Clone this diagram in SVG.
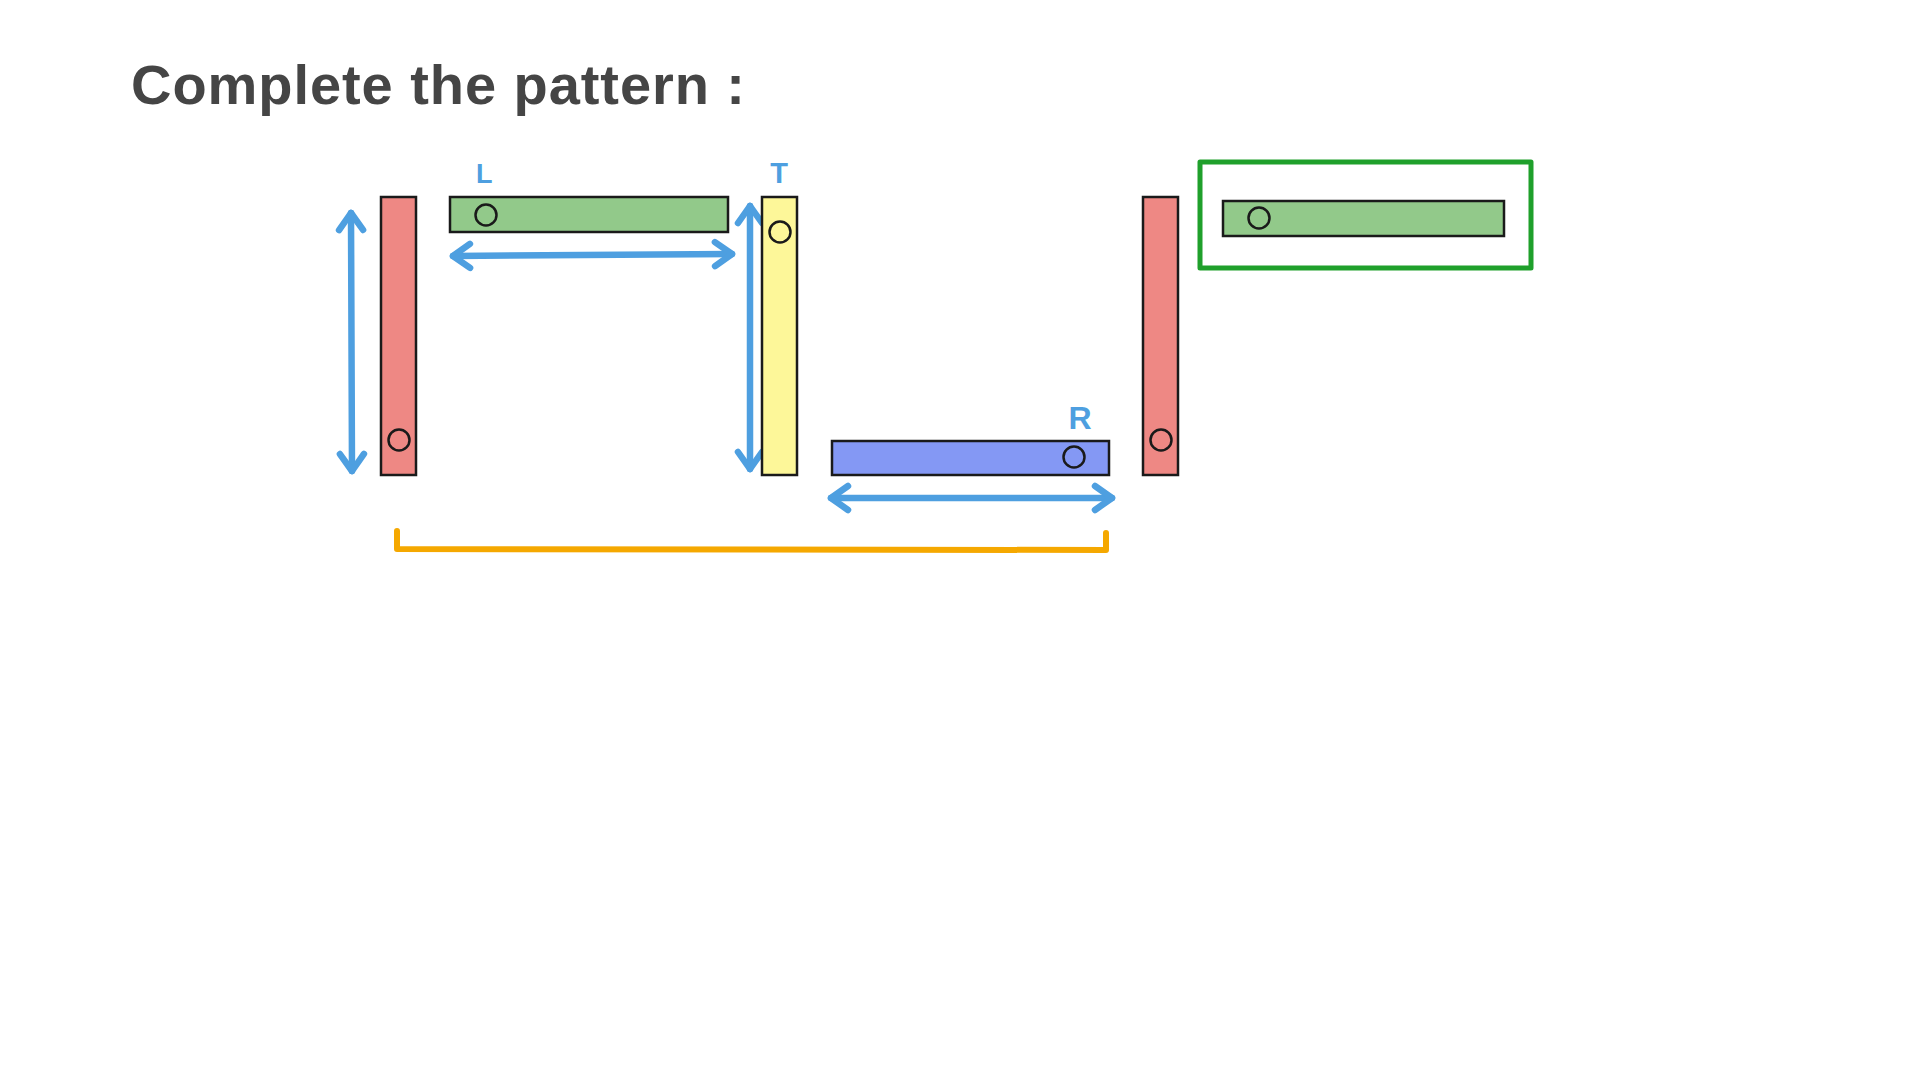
<svg xmlns="http://www.w3.org/2000/svg" width="1920" height="1080" viewBox="0 0 1920 1080">
  <style>
    .bar { stroke: #1a1a1a; stroke-width: 2.5; }
    .red { fill: #ee8884; }
    .green { fill: #92c98a; }
    .yellow { fill: #fdf799; }
    .blue { fill: #8498f4; }
    .hole { fill: none; stroke: #1a1a1a; stroke-width: 2.5; }
    .arrow { fill: none; stroke: #4e9fe0; stroke-width: 6.5; stroke-linecap: round; stroke-linejoin: round; }
    .lbl { font-family: "Liberation Sans", "Noto Sans", sans-serif; font-weight: bold; fill: #4e9fe0; }
    .title { font-family: "Liberation Sans", "Noto Sans", sans-serif; font-size: 56px; font-weight: bold; fill: #454545; }
  </style>
  <defs>
    <marker id="chev" markerUnits="userSpaceOnUse" markerWidth="40" markerHeight="40" refX="0" refY="0" viewBox="-30 -20 40 40" orient="auto-start-reverse" overflow="visible">
      <path d="M -17 -12 L 0 0 L -17 12" fill="none" stroke="#4e9fe0" stroke-width="6.5" stroke-linecap="round" stroke-linejoin="round"/>
    </marker>
  </defs>
  <rect width="1920" height="1080" fill="#ffffff"/>

  <text class="title" x="131" y="104" textLength="614" lengthAdjust="spacing">Complete the pattern :</text>

  <g id="connectors">
    <path class="arrow" d="M 351 213 L 352 471" marker-start="url(#chev)" marker-end="url(#chev)"/>
    <path class="arrow" d="M 453 256 L 732 254" marker-start="url(#chev)" marker-end="url(#chev)"/>
    <path class="arrow" d="M 750 206 L 750 469" marker-start="url(#chev)" marker-end="url(#chev)"/>
    <path class="arrow" d="M 831 498 L 1112 498" marker-start="url(#chev)" marker-end="url(#chev)"/>
    <path d="M 397 531 L 397 549 L 1106 550 L 1106 533" fill="none" stroke="#f5a800" stroke-width="6" stroke-linecap="round" stroke-linejoin="round"/>
  </g>

  <g id="bar-red-1">
    <rect class="bar red" x="381" y="197" width="35" height="278"/>
    <circle class="hole" cx="399" cy="440" r="10.5"/>
  </g>
  <g id="bar-green-1">
    <rect class="bar green" x="450" y="197" width="278" height="35"/>
    <circle class="hole" cx="486" cy="215" r="10.5"/>
    <text class="lbl" x="476" y="183" font-size="27">L</text>
  </g>
  <g id="bar-yellow">
    <rect class="bar yellow" x="762" y="197" width="35" height="278"/>
    <circle class="hole" cx="780" cy="232" r="10.5"/>
    <text class="lbl" x="779" y="183" font-size="29" text-anchor="middle">T</text>
  </g>
  <g id="bar-blue">
    <rect class="bar blue" x="832" y="441" width="277" height="34"/>
    <circle class="hole" cx="1074" cy="457" r="10.5"/>
    <text class="lbl" x="1080" y="429" font-size="32" text-anchor="middle">R</text>
  </g>
  <g id="bar-red-2">
    <rect class="bar red" x="1143" y="197" width="35" height="278"/>
    <circle class="hole" cx="1161" cy="440" r="10.5"/>
  </g>
  <g id="answer">
    <rect x="1200" y="162" width="331" height="106" fill="none" stroke="#1fa02b" stroke-width="5" stroke-linejoin="round"/>
    <g id="bar-green-2">
      <rect class="bar green" x="1223" y="201" width="281" height="35"/>
      <circle class="hole" cx="1259" cy="218" r="10.5"/>
    </g>
  </g>
</svg>
